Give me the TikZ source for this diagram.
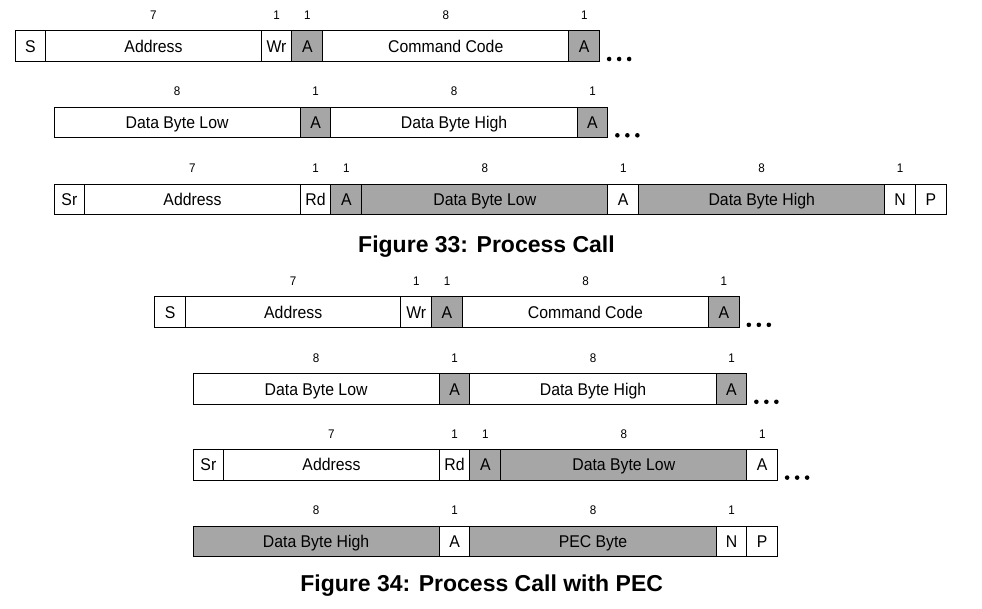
\documentclass[tikz,border=0pt]{standalone}
\usepackage{fontspec}
\newfontfamily\arialf{Liberation Sans}
\newfontfamily\arialn[FakeStretch=0.93]{Liberation Sans}
\definecolor{ackgray}{RGB}{166,166,166}
\tikzset{
  fb/.style={draw=black, line width=0.9pt, inner sep=0pt, outer sep=0pt,
    minimum height=30.8pt, anchor=north west, text height=12.2pt, text depth=0pt,
    font=\arialn\fontsize{17}{17}\selectfont},
  wb/.style={fb, fill=white},
  gb/.style={fb, fill=ackgray},
  bits/.style={minimum width=#1*30.77pt},
  bitnum/.style={inner sep=0pt, font=\arialn\fontsize{12.5}{13}\selectfont},
  figcap/.style={anchor=base, inner sep=0pt, font=\arialf\bfseries\fontsize{23}{24}\selectfont},
  dotfill/.style={fill=black}
}
\newcommand\bitlbl[2]{\node[bitnum] at ([yshift=15.5pt]#1.north) {#2};}
\newcommand\threedots[1]{%
  \fill[dotfill] ([xshift=9.5pt,yshift=2.5pt]#1.south east) circle (2.3pt);
  \fill[dotfill] ([xshift=19.5pt,yshift=2.5pt]#1.south east) circle (2.3pt);
  \fill[dotfill] ([xshift=29.5pt,yshift=2.5pt]#1.south east) circle (2.3pt);}
\begin{document}
\begin{tikzpicture}[x=1pt,y=-1pt]
\useasboundingbox (0,0) rectangle (982,608);
% ---------------- Figure 33 ----------------
% row 1
\node[wb,bits=1] (a1) at (15,30.7) {S};
\node[wb,bits=7] (a2) at (a1.north east) {Address};
\node[wb,bits=1] (a3) at (a2.north east) {Wr};
\node[gb,bits=1] (a4) at (a3.north east) {A};
\node[wb,bits=8] (a5) at (a4.north east) {Command Code};
\node[gb,bits=1] (a6) at (a5.north east) {A};
\bitlbl{a2}{7}\bitlbl{a3}{1}\bitlbl{a4}{1}\bitlbl{a5}{8}\bitlbl{a6}{1}
\threedots{a6}
% row 2
\node[wb,bits=8] (b1) at (54,107) {Data Byte Low};
\node[gb,bits=1] (b2) at (b1.north east) {A};
\node[wb,bits=8] (b3) at (b2.north east) {Data Byte High};
\node[gb,bits=1] (b4) at (b3.north east) {A};
\bitlbl{b1}{8}\bitlbl{b2}{1}\bitlbl{b3}{8}\bitlbl{b4}{1}
\threedots{b4}
% row 3
\node[wb,bits=1] (c1) at (54,184) {Sr};
\node[wb,bits=7] (c2) at (c1.north east) {Address};
\node[wb,bits=1] (c3) at (c2.north east) {Rd};
\node[gb,bits=1] (c4) at (c3.north east) {A};
\node[gb,bits=8] (c5) at (c4.north east) {Data Byte Low};
\node[wb,bits=1] (c6) at (c5.north east) {A};
\node[gb,bits=8] (c7) at (c6.north east) {Data Byte High};
\node[wb,bits=1] (c8) at (c7.north east) {N};
\node[wb,bits=1] (c9) at (c8.north east) {P};
\bitlbl{c2}{7}\bitlbl{c3}{1}\bitlbl{c4}{1}\bitlbl{c5}{8}\bitlbl{c6}{1}\bitlbl{c7}{8}\bitlbl{c8}{1}
\node[figcap] (cap33) at (486.5,252.3) {Figure 33: Process Call};
% ---------------- Figure 34 ----------------
% row 1
\node[wb,bits=1] (d1) at (154.7,296.5) {S};
\node[wb,bits=7] (d2) at (d1.north east) {Address};
\node[wb,bits=1] (d3) at (d2.north east) {Wr};
\node[gb,bits=1] (d4) at (d3.north east) {A};
\node[wb,bits=8] (d5) at (d4.north east) {Command Code};
\node[gb,bits=1] (d6) at (d5.north east) {A};
\bitlbl{d2}{7}\bitlbl{d3}{1}\bitlbl{d4}{1}\bitlbl{d5}{8}\bitlbl{d6}{1}
\threedots{d6}
% row 2
\node[wb,bits=8] (e1) at (193,373.5) {Data Byte Low};
\node[gb,bits=1] (e2) at (e1.north east) {A};
\node[wb,bits=8] (e3) at (e2.north east) {Data Byte High};
\node[gb,bits=1] (e4) at (e3.north east) {A};
\bitlbl{e1}{8}\bitlbl{e2}{1}\bitlbl{e3}{8}\bitlbl{e4}{1}
\threedots{e4}
% row 3
\node[wb,bits=1] (f1) at (193,449.3) {Sr};
\node[wb,bits=7] (f2) at (f1.north east) {Address};
\node[wb,bits=1] (f3) at (f2.north east) {Rd};
\node[gb,bits=1] (f4) at (f3.north east) {A};
\node[gb,bits=8] (f5) at (f4.north east) {Data Byte Low};
\node[wb,bits=1] (f6) at (f5.north east) {A};
\bitlbl{f2}{7}\bitlbl{f3}{1}\bitlbl{f4}{1}\bitlbl{f5}{8}\bitlbl{f6}{1}
\threedots{f6}
% row 4
\node[gb,bits=8] (g1) at (193,526) {Data Byte High};
\node[wb,bits=1] (g2) at (g1.north east) {A};
\node[gb,bits=8] (g3) at (g2.north east) {PEC Byte};
\node[wb,bits=1] (g4) at (g3.north east) {N};
\node[wb,bits=1] (g5) at (g4.north east) {P};
\bitlbl{g1}{8}\bitlbl{g2}{1}\bitlbl{g3}{8}\bitlbl{g4}{1}
\node[figcap] (cap34) at (481.7,591) {Figure 34: Process Call with PEC};
\end{tikzpicture}
\end{document}
